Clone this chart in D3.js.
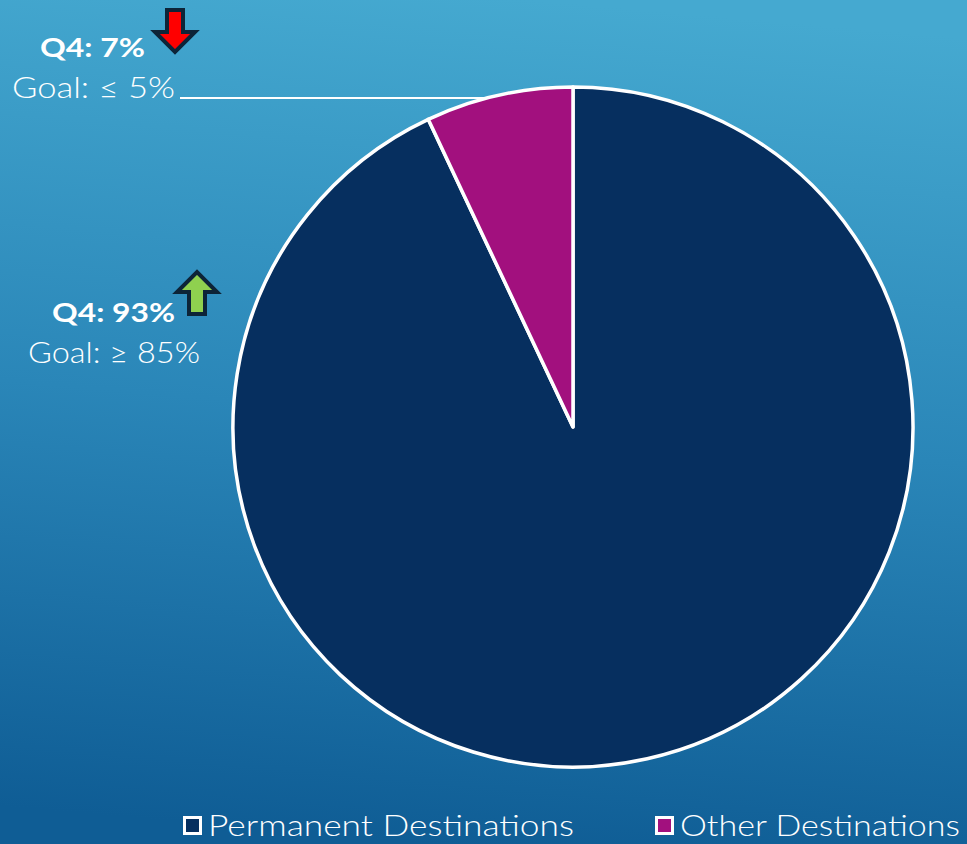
<!DOCTYPE html>
<html>
<head>
<meta charset="utf-8">
<script src="https://cdn.jsdelivr.net/npm/d3@7"></script>
<style>
  body { margin: 0; overflow: hidden; }
  text { font-family: "Lato", "Open Sans", sans-serif; fill: #fff; }
</style>
</head>
<body>
<div id="chart"></div>
<script>
// Destination data (Q4)
const categories = ["Permanent Destinations", "Other Destinations"];
const values = [93, 7];
const colors = ["#062f5f", "#a2107e"];
const goals = ["Goal: \u2265 85%", "Goal: \u2264 5%"];

const width = 967, height = 844;
const cx = 573, cy = 427, radius = 340;

const svg = d3.select("#chart")
  .append("svg")
  .attr("width", width)
  .attr("height", height);

// background gradient
const defs = svg.append("defs");
const grad = defs.append("linearGradient")
  .attr("id", "bg")
  .attr("x1", "0.55").attr("y1", "0")
  .attr("x2", "0.45").attr("y2", "1");
grad.append("stop").attr("offset", "0").attr("stop-color", "#45a9d0");
grad.append("stop").attr("offset", "0.5").attr("stop-color", "#2a86b8");
grad.append("stop").attr("offset", "1").attr("stop-color", "#0f5d95");

svg.append("rect")
  .attr("width", width)
  .attr("height", height)
  .attr("fill", "url(#bg)");

const data = categories.map((c, i) => ({ name: c, value: values[i], color: colors[i] }));

const pie = d3.pie().sort(null).value(d => d.value);
const arc = d3.arc().innerRadius(0).outerRadius(radius);
const arcs = pie(data);

const g = svg.append("g").attr("transform", `translate(${cx},${cy})`);

g.selectAll("path")
  .data(arcs)
  .join("path")
  .attr("d", arc)
  .attr("fill", d => d.data.color)
  .attr("stroke", "#fff")
  .attr("stroke-width", 3.5)
  .attr("stroke-linejoin", "round");

// leader line for the small slice
const other = arcs[1];
const lineAngle = other.startAngle + (other.endAngle - other.startAngle) * 0.42;
const ex = cx + radius * Math.sin(lineAngle);
const ey = cy - radius * Math.cos(lineAngle);
svg.append("line")
  .attr("x1", 180).attr("y1", 98)
  .attr("x2", ex).attr("y2", ey)
  .attr("stroke", "#fff")
  .attr("stroke-width", 2);

// labels (textLength mimics the wide Century Gothic look)
const labels = [
  { q: `Q4: ${values[1]}%`, goal: goals[1], qx: 40, qy: 57, qw: 105, gx: 12, gy: 98, gw: 163, arrow: "down", ax: 175, ay: 30 },
  { q: `Q4: ${values[0]}%`, goal: goals[0], qx: 52, qy: 322, qw: 123, gx: 28, gy: 363, gw: 172, arrow: "up", ax: 197, ay: 294 }
];

labels.forEach(l => {
  svg.append("text")
    .attr("x", l.qx).attr("y", l.qy)
    .attr("font-size", 27)
    .attr("font-weight", "bold")
    .attr("textLength", l.qw)
    .attr("lengthAdjust", "spacingAndGlyphs")
    .text(l.q);
  svg.append("text")
    .attr("x", l.gx).attr("y", l.gy)
    .attr("font-size", 29)
    .attr("font-weight", 300)
    .attr("textLength", l.gw)
    .attr("lengthAdjust", "spacingAndGlyphs")
    .text(l.goal);

  // block arrow
  const shape = [[-8, -20], [8, -20], [8, 2], [20, 2], [0, 22], [-20, 2], [-8, 2]];
  const pts = l.arrow === "down" ? shape : shape.map(p => [p[0], -p[1]]);
  const ag = svg.append("g").attr("transform", `translate(${l.ax},${l.ay})`);
  ag.append("polygon")
    .attr("points", pts.map(p => p.join(",")).join(" "))
    .attr("fill", l.arrow === "down" ? "#ff0000" : "#8fd14f")
    .attr("stroke", "#0d2438")
    .attr("stroke-width", 4)
    .attr("stroke-linejoin", "miter");
});

// legend
const legendX = [183, 655];
const legendW = [366, 280];
const leg = svg.selectAll("g.legend")
  .data(data)
  .join("g")
  .attr("class", "legend")
  .attr("transform", (d, i) => `translate(${legendX[i]},816)`);

leg.append("rect")
  .attr("x", 1.5).attr("y", 1.5)
  .attr("width", 16).attr("height", 16)
  .attr("fill", d => d.color)
  .attr("stroke", "#fff")
  .attr("stroke-width", 3);

leg.append("text")
  .attr("x", 25).attr("y", 20)
  .attr("font-size", 29)
  .attr("font-weight", 300)
  .attr("textLength", (d, i) => legendW[i])
  .attr("lengthAdjust", "spacingAndGlyphs")
  .text(d => d.name);
</script>
</body>
</html>
